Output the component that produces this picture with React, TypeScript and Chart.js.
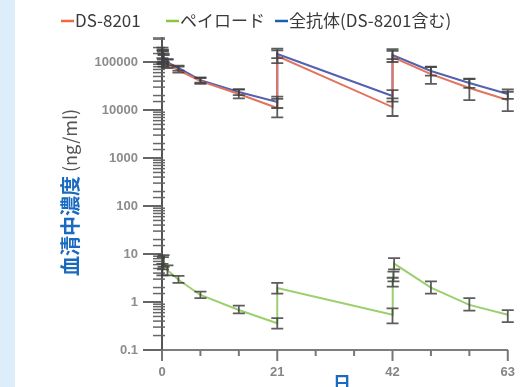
import { useEffect, useRef } from 'react';
import { Chart, registerables } from 'chart.js';

Chart.register(...registerables);

// ---- Data (days, serum concentration ng/mL) ----
const adcDays = [0.08, 0.17, 0.29, 1, 3, 7, 14, 21, 21, 42, 42, 49, 56, 63];
const ds8201 = [135000, 125000, 110000, 92000, 68000, 40000, 21500, 11000, 133000, 11500, 127000, 56000, 28700, 16200];
const ds8201Low = [95000, 90000, 80000, 75000, 60000, 35000, 17500, 7000, 95000, 7500, 100000, 35000, 16000, 9500];
const ds8201High = [200000, 180000, 150000, 115000, 80000, 47000, 27000, 17000, 190000, 17500, 185000, 80000, 45000, 24000];

const totalAb = [145000, 135000, 118000, 98000, 75000, 42000, 23700, 14700, 147000, 19600, 140000, 65000, 36500, 21500];
const totalAbLow = [120000, 112000, 100000, 85000, 66000, 37000, 20500, 11000, 120000, 15000, 115000, 52000, 29000, 17000];
const totalAbHigh = [175000, 165000, 140000, 112000, 84000, 47000, 27000, 19000, 175000, 26000, 170000, 78000, 44000, 27000];

const payloadDays = [0.08, 0.17, 0.29, 1, 3, 7, 14, 21, 21, 42, 42.04, 42.17, 42.29, 49, 56, 63];
const payload = [4.8, 6.5, 7.2, 4.6, 2.9, 1.4, 0.68, 0.36, 1.96, 0.54, 2.6, 3.4, 6.3, 2.0, 0.87, 0.54];
const payloadLow = [3.6, 4.8, 5.4, 3.6, 2.5, 1.2, 0.58, 0.28, 1.5, 0.36, 2.1, 2.7, 4.8, 1.5, 0.66, 0.38];
const payloadHigh = [6.2, 8.6, 9.5, 5.8, 3.5, 1.65, 0.84, 0.46, 2.5, 0.74, 3.2, 4.3, 8.2, 2.7, 1.2, 0.68];

const seriesNames = ['DS-8201', 'ペイロード', '全抗体(DS-8201含む)'];
const legendColors = ['#f26a3a', '#8cc63f', '#1b5fb0'];
const lineColors = ['#e2735f', '#9ccf6e', '#5262b0'];

const xMajorTicks = [0, 21, 42, 63];
const yTitleMain = '血清中濃度';
const yTitleUnit = '(ng/ml)';
const xTitle = '日';

const App = () => {
  const ref = useRef<HTMLCanvasElement | null>(null);

  useEffect(() => {
    document.body.style.margin = '0';
    const canvas = ref.current;
    if (!canvas) return;

    const toPts = (xs: number[], ys: number[]) => xs.map((x, i) => ({ x, y: ys[i] }));

    const errors: { days: number[]; lo: number[]; hi: number[] }[] = [
      { days: payloadDays, lo: payloadLow, hi: payloadHigh },
      { days: adcDays, lo: ds8201Low, hi: ds8201High },
      { days: adcDays, lo: totalAbLow, hi: totalAbHigh },
    ];

    const decor = {
      id: 'decor',
      beforeDraw(chart: any) {
        const ctx = chart.ctx;
        ctx.save();
        ctx.fillStyle = '#ddeefa';
        ctx.fillRect(0, 0, 15, chart.height);
        ctx.restore();
      },
      beforeDatasetsDraw(chart: any) {
        const ctx = chart.ctx;
        const xs = chart.scales.x;
        const ys = chart.scales.y;
        const area = chart.chartArea;
        ctx.save();
        ctx.strokeStyle = '#666';
        ys.ticks.forEach((t: any) => {
          const v = t.value;
          const lg = Math.log10(v);
          const major = Math.abs(lg - Math.round(lg)) < 1e-6;
          const p = ys.getPixelForValue(v);
          ctx.lineWidth = major ? 2 : 1.5;
          ctx.beginPath();
          ctx.moveTo(area.left - (major ? 19 : 9), p);
          ctx.lineTo(area.left + (major ? 0 : 3), p);
          ctx.stroke();
        });
        ctx.strokeStyle = '#777';
        xs.ticks.forEach((t: any) => {
          const v = t.value;
          const major = xMajorTicks.includes(v);
          const p = xs.getPixelForValue(v);
          ctx.lineWidth = 2;
          ctx.beginPath();
          ctx.moveTo(p, area.bottom);
          ctx.lineTo(p, area.bottom + (major ? 11 : 6));
          ctx.stroke();
        });
        ctx.restore();
      },
      afterDatasetsDraw(chart: any) {
        const ctx = chart.ctx;
        const xs = chart.scales.x;
        const ys = chart.scales.y;
        ctx.save();
        ctx.strokeStyle = 'rgba(65,65,65,0.85)';
        ctx.lineWidth = 1.8;
        errors.forEach((e) => {
          e.days.forEach((d, i) => {
            const x = xs.getPixelForValue(d);
            const y1 = ys.getPixelForValue(e.lo[i]);
            const y2 = ys.getPixelForValue(e.hi[i]);
            ctx.beginPath();
            ctx.moveTo(x, y1);
            ctx.lineTo(x, y2);
            ctx.moveTo(x - 6, y1);
            ctx.lineTo(x + 6, y1);
            ctx.moveTo(x - 6, y2);
            ctx.lineTo(x + 6, y2);
            ctx.stroke();
          });
        });
        ctx.restore();
      },
      afterDraw(chart: any) {
        const ctx = chart.ctx;
        ctx.save();
        const legendX = [61, 166, 275];
        const ly = 21;
        ctx.font = '17px "Noto Sans CJK JP", "Noto Sans", sans-serif';
        ctx.textBaseline = 'middle';
        ctx.textAlign = 'left';
        seriesNames.forEach((name, i) => {
          const x0 = legendX[i];
          ctx.strokeStyle = legendColors[i];
          ctx.lineWidth = 2.5;
          ctx.beginPath();
          ctx.moveTo(x0, ly);
          ctx.lineTo(x0 + 13, ly);
          ctx.stroke();
          ctx.fillStyle = '#3a3a3a';
          ctx.fillText(name, x0 + 14, ly);
        });
        // Y title
        ctx.translate(70, 276);
        ctx.rotate(-Math.PI / 2);
        ctx.textAlign = 'left';
        ctx.textBaseline = 'middle';
        ctx.font = 'bold 20px "Noto Sans CJK JP", sans-serif';
        ctx.fillStyle = '#1a6bbf';
        ctx.fillText(yTitleMain, 0, 0);
        const w = ctx.measureText(yTitleMain).width;
        ctx.font = '18px "Noto Sans CJK JP", sans-serif';
        ctx.fillStyle = '#555';
        ctx.fillText(yTitleUnit, w + 4, 0);
        ctx.setTransform(1, 0, 0, 1, 0, 0);
        // X title
        ctx.font = 'bold 18px "Noto Sans CJK JP", sans-serif';
        ctx.fillStyle = '#1a6bbf';
        ctx.textAlign = 'center';
        ctx.textBaseline = 'middle';
        ctx.fillText(xTitle, 342, 383);
        ctx.restore();
      },
    };

    const chart = new Chart(canvas, {
      type: 'line',
      data: {
        datasets: [
          {
            label: seriesNames[1],
            data: toPts(payloadDays, payload),
            borderColor: lineColors[1],
            borderWidth: 2,
            pointRadius: 0,
            tension: 0,
          },
          {
            label: seriesNames[0],
            data: toPts(adcDays, ds8201),
            borderColor: lineColors[0],
            borderWidth: 2,
            pointRadius: 0,
            tension: 0,
          },
          {
            label: seriesNames[2],
            data: toPts(adcDays, totalAb),
            borderColor: lineColors[2],
            borderWidth: 2,
            pointRadius: 0,
            tension: 0,
          },
        ],
      },
      options: {
        responsive: false,
        animation: false,
        events: [],
        layout: { padding: { top: 38, right: 13, left: 0, bottom: 0 } },
        plugins: {
          legend: { display: false },
          tooltip: { enabled: false },
        },
        scales: {
          x: {
            type: 'linear',
            min: 0,
            max: 63,
            afterFit: (s: any) => {
              s.height = 37;
            },
            grid: { display: true, drawOnChartArea: false, drawTicks: false },
            border: { display: true, color: '#7d7d7d', width: 2 },
            ticks: {
              stepSize: 7,
              autoSkip: false,
              maxRotation: 0,
              padding: 15,
              color: '#858585',
              font: { size: 13, weight: 'bold', family: 'Liberation Sans, sans-serif' },
              callback: (v: any) => (xMajorTicks.includes(Number(v)) ? String(v) : ''),
            },
          },
          y: {
            type: 'logarithmic',
            min: 0.1,
            max: 316228,
            afterFit: (s: any) => {
              s.width = 162;
            },
            grid: { display: true, drawOnChartArea: false, drawTicks: false },
            border: { display: true, color: '#555', width: 2 },
            ticks: {
              autoSkip: false,
              padding: 24,
              color: '#8c8c8c',
              font: { size: 13, weight: 'bold', family: 'Liberation Sans, sans-serif' },
              callback: (v: any) => {
                const n = Number(v);
                const lg = Math.log10(n);
                if (Math.abs(lg - Math.round(lg)) < 1e-6 && n <= 100000) {
                  return n < 1 ? n.toFixed(1) : String(Math.round(n));
                }
                return '';
              },
            },
          },
        },
      },
      plugins: [decor],
    } as any);

    return () => chart.destroy();
  }, []);

  return (
    <div style={{ width: 530, height: 387, position: 'relative', background: '#fff' }}>
      <canvas ref={ref} width={530} height={387} style={{ display: 'block' }} />
    </div>
  );
};

export default App;
